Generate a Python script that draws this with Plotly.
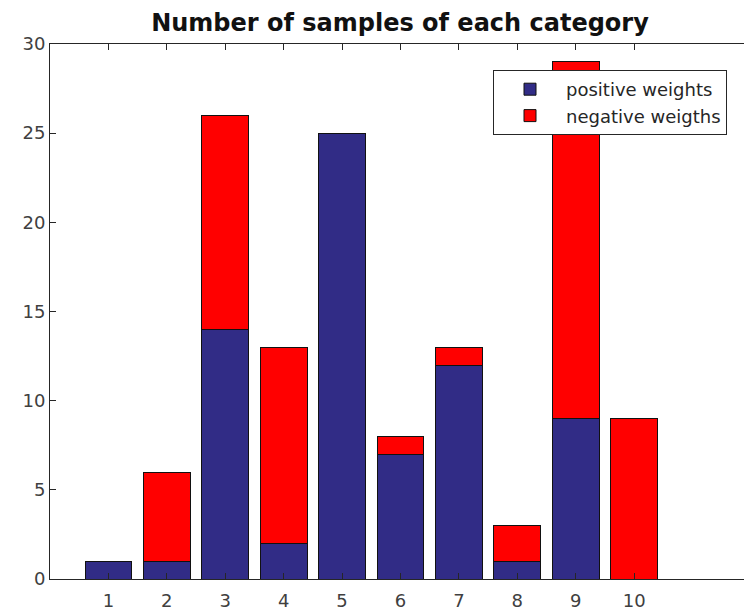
import plotly.graph_objects as go

categories = [1, 2, 3, 4, 5, 6, 7, 8, 9, 10]
positive_weights = [1, 1, 14, 2, 25, 7, 12, 1, 9, 0]
negative_weights = [0, 5, 12, 11, 0, 1, 1, 2, 20, 9]
y_ticks = [0, 5, 10, 15, 20, 25, 30]

BLUE = "#312C86"
RED = "#FF0000"
FONT = "DejaVu Sans"


def nz(vals):
    return [v if v != 0 else None for v in vals]


fig = go.Figure()
fig.add_trace(go.Bar(
    x=categories, y=nz(positive_weights), name="positive weights",
    marker=dict(color=BLUE, line=dict(color="#111111", width=1)),
    width=0.8,
))
fig.add_trace(go.Bar(
    x=categories, y=nz(negative_weights), name="negative weigths",
    marker=dict(color=RED, line=dict(color="#111111", width=1)),
    width=0.8,
))

fig.update_layout(
    width=744, height=607,
    barmode="stack",
    plot_bgcolor="white", paper_bgcolor="white",
    margin=dict(l=50, r=0, t=44, b=28, autoexpand=False),
    font=dict(family=FONT, size=18, color="#404040"),
    title=dict(
        text="<b>Number of samples of each category</b>",
        font=dict(family=FONT, size=24, color="#111111"),
        x=(400 - 50) / 694, xref="paper", xanchor="center",
        y=1 - 23 / 607, yref="container", yanchor="middle",
    ),
    legend=dict(
        x=(727 - 50) / 694, y=(579 - 70) / 535, xanchor="right", yanchor="top",
        bgcolor="white", bordercolor="#262626", borderwidth=1,
        font=dict(family=FONT, size=18, color="#262626"),
        tracegroupgap=0, traceorder="normal", itemwidth=62,
    ),
    showlegend=True,
)
fig.update_xaxes(
    range=[0, 11.88], tickvals=categories, ticktext=[str(c) for c in categories],
    ticks="inside", ticklen=6, tickcolor="#262626",
    showline=True, linecolor="#262626", linewidth=1, mirror="ticks",
    showgrid=False, zeroline=False, automargin=False, ticklabelstandoff=5,
    tickfont=dict(family=FONT, size=18, color="#404040"),
)
fig.update_yaxes(
    range=[0, 30], tickvals=y_ticks,
    ticks="inside", ticklen=6, tickcolor="#262626",
    showline=True, linecolor="#262626", linewidth=1, mirror=False,
    showgrid=False, zeroline=False, automargin=False,
    tickfont=dict(family=FONT, size=18, color="#404040"),
)

fig.write_html(
    "out.html",
    config={"displayModeBar": False},
    post_script="document.body.style.margin='0';document.body.style.overflow='hidden';",
)
